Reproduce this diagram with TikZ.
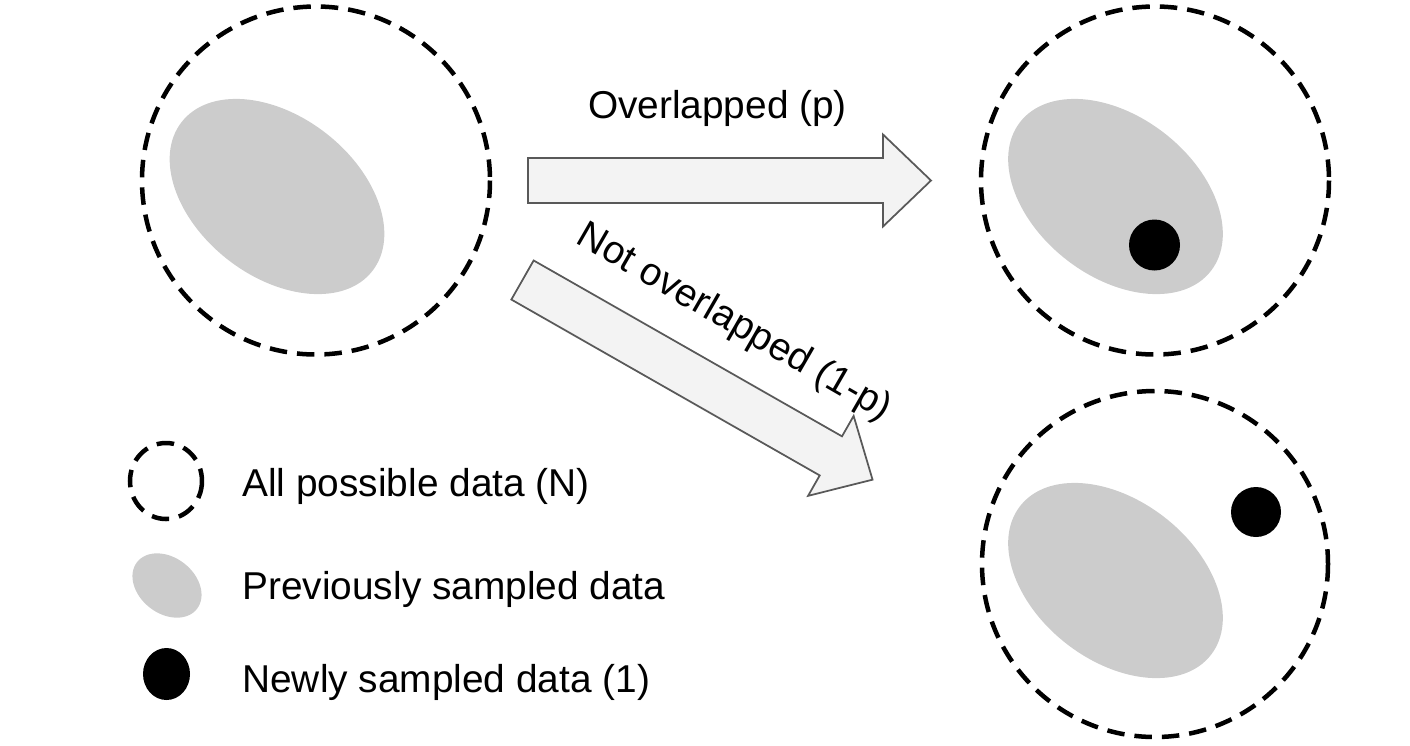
\documentclass[tikz,border=0pt]{standalone}
\usepackage{fontspec}
\setmainfont{Liberation Sans}
\definecolor{prevgray}{HTML}{CCCCCC}
\definecolor{arrowfill}{HTML}{F3F3F3}
\definecolor{arrowline}{HTML}{595959}
\begin{document}
\begin{tikzpicture}[x=0.02cm,y=-0.02cm,
  allc/.style={draw=black, line width=0.09cm, dash pattern=on 0.35cm off 0.2cm},
  prev/.style={fill=prevgray},
  newd/.style={fill=black},
  blockarrow/.style={fill=arrowfill, draw=arrowline, line width=0.035cm, line join=miter},
  lbl/.style={font=\fontsize{22.1pt}{26pt}\selectfont, inner sep=0pt}]
\useasboundingbox (0,0) rectangle (1410,745);

% source set
\draw[allc] (316,180.5) circle [radius=174];
\fill[prev, shift={(277,196.5)}, rotate=-38] (0,0) ellipse [x radius=121, y radius=80];

% overlapped result
\draw[allc] (1155,180.5) circle [radius=174];
\fill[prev, shift={(1115.5,196.5)}, rotate=-38] (0,0) ellipse [x radius=121, y radius=80];
\fill[newd] (1154.5,245) circle [radius=25.5];

% not overlapped result
\draw[allc] (1155,564) circle [radius=173];
\fill[prev, shift={(1115.5,580.5)}, rotate=-38] (0,0) ellipse [x radius=121, y radius=80];
\fill[newd] (1256,512) circle [radius=25];

% block arrows
\draw[blockarrow, shift={(528,180.5)}]
  (0,-22.5) -- (355,-22.5) -- (355,-46) -- (403,0) -- (355,46) -- (355,22.5) -- (0,22.5) -- cycle;
\draw[blockarrow, shift={(522.5,280)}, rotate=-29.7]
  (0,-22.5) -- (355,-22.5) -- (355,-46) -- (403,0) -- (355,46) -- (355,22.5) -- (0,22.5) -- cycle;

% arrow labels
\node[lbl, anchor=base] (ov) at (717.5,118) {Overlapped (p)};
\node[lbl, anchor=base, rotate=-30] (nov) at (729,332) {Not overlapped (1-p)};

% legend
\draw[allc] (166,481) ellipse [x radius=36, y radius=38];
\fill[prev, shift={(167,585.5)}, rotate=-38] (0,0) ellipse [x radius=38, y radius=28];
\fill[newd] (166.5,674) ellipse [x radius=23.5, y radius=26];
\node[lbl, anchor=base west] (l1) at (242,496) {All possible data (N)};
\node[lbl, anchor=base west] (l2) at (242,599) {Previously sampled data};
\node[lbl, anchor=base west] (l3) at (242,692) {Newly sampled data (1)};
\end{tikzpicture}
\end{document}
